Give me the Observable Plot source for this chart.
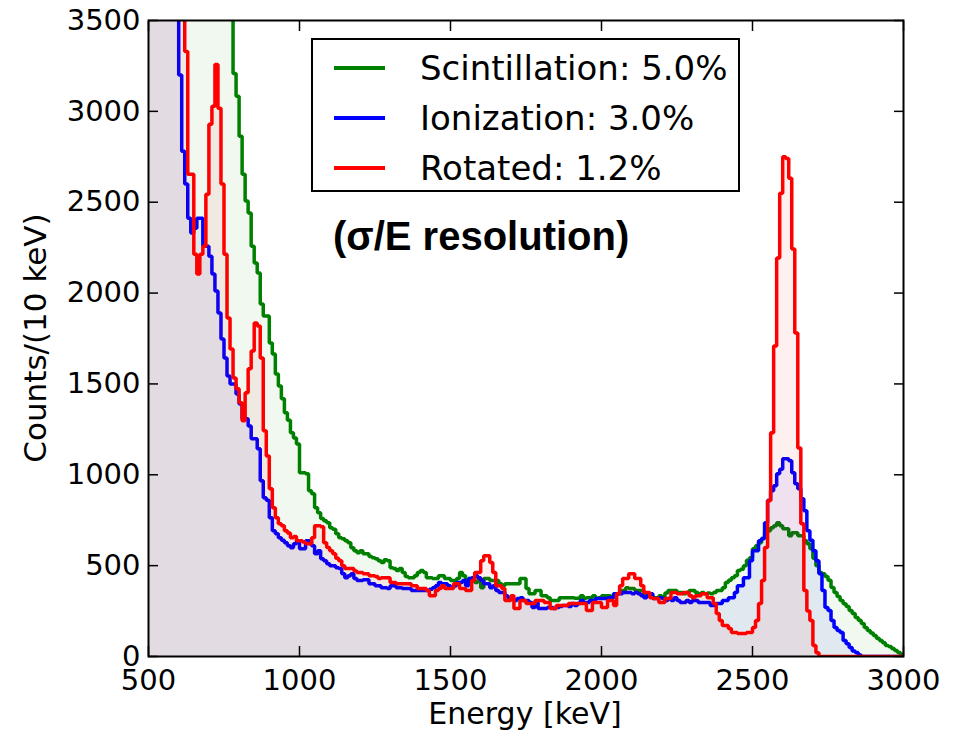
<!DOCTYPE html>
<html>
<head>
<meta charset="utf-8">
<script src="https://cdn.jsdelivr.net/npm/d3@7"></script>
<script src="https://cdn.jsdelivr.net/npm/@observablehq/plot@0.6"></script>
<style>
  html, body { margin: 0; padding: 0; background: #fff; }
  #wrap { position: relative; width: 961px; height: 736px; overflow: hidden; font-family: "DejaVu Sans", sans-serif; }
  .ylabel { position: absolute; left: 35px; top: 338px; transform: translate(-50%, -50%) rotate(-90deg); font-size: 31px; white-space: nowrap; color: #000; }
  .xlabel { position: absolute; left: 525px; top: 713px; transform: translate(-50%, -50%); font-size: 30px; white-space: nowrap; color: #000; }
  .legend { position: absolute; left: 311px; top: 38px; width: 425px; height: 150px; border: 2px solid #000; background: #fff; }
  .legend .row { position: absolute; left: 0; height: 40px; width: 100%; }
  .legend .sw { position: absolute; left: 21px; top: 18px; width: 51px; height: 4px; }
  .legend .tx { position: absolute; left: 107px; top: 0; line-height: 40px; font-size: 34px; white-space: nowrap; color: #000; }
  .annot { position: absolute; left: 333px; top: 236px; transform: translateY(-50%); font-family: "Liberation Sans", Arial, sans-serif; font-weight: bold; font-size: 40px; white-space: nowrap; color: #000; }
</style>
</head>
<body>
<div id="wrap"></div>
<script>
// Bin left edges (10 keV bins from 500 to 3000 keV)
const binStart = 500, binWidth = 10, binEnd = 3000;
const xTicks = [500, 1000, 1500, 2000, 2500, 3000];
const yTicks = [0, 500, 1000, 1500, 2000, 2500, 3000, 3500];

const seriesNames = ["Scintillation: 5.0%", "Ionization: 3.0%", "Rotated: 1.2%"];
const seriesColors = ["#008000", "#0000ff", "#ff0000"];

// Counts per 10 keV bin (values above 3500 run off the top)
const scintillation = [
  7000, 6800, 6600, 6400, 6200, 6000, 5800, 5600, 5400, 5250,
  5100, 4950, 4800, 4700, 4600, 4500, 4400, 4300, 4200, 4100,
  4000, 3950, 3850, 3780, 3700, 3650, 3620, 3560, 3209, 3083,
  2863, 2654, 2506, 2440, 2258, 2165, 2110, 1940, 1874, 1874,
  1725, 1665, 1555, 1489, 1418, 1341, 1300, 1231, 1203, 1170,
  1011, 1011, 1006, 912, 896, 819, 791, 760, 747, 736,
  709, 700, 676, 654, 648, 637, 626, 599, 582, 571,
  582, 566, 566, 550, 544, 538, 527, 517, 533, 527,
  489, 484, 473, 484, 462, 440, 434, 434, 445, 462,
  473, 462, 434, 434, 429, 429, 445, 445, 429, 429,
  418, 418, 429, 462, 445, 418, 429, 429, 407, 418,
  379, 429, 429, 418, 418, 418, 401, 390, 401, 401,
  401, 401, 401, 429, 429, 374, 346, 346, 363, 363,
  335, 335, 324, 308, 308, 308, 324, 324, 324, 324,
  324, 320, 320, 335, 320, 324, 324, 335, 320, 324,
  335, 335, 335, 324, 346, 346, 363, 363, 379, 374,
  374, 363, 363, 363, 335, 335, 335, 324, 324, 335,
  324, 350, 363, 363, 363, 352, 352, 346, 352, 363,
  363, 352, 346, 352, 346, 350, 346, 352, 363, 363,
  379, 407, 420, 434, 445, 473, 480, 500, 530, 544,
  593, 610, 626, 650, 681, 692, 709, 720, 736, 720,
  703, 703, 665, 681, 681, 665, 665, 637, 620, 593,
  540, 500, 462, 456, 440, 420, 380, 352, 330, 308,
  290, 275, 253, 236, 214, 200, 181, 160, 143, 130,
  115, 100, 88, 75, 60, 55, 44, 33, 22, 12
];

const ionization = [
  6000, 5800, 5600, 5400, 5100, 4900, 4600, 4300, 4000, 3700,
  3200, 2780, 2600, 2412, 2330, 2357, 2412, 2412, 2258, 2258,
  2203, 2105, 2011, 1890, 1747, 1643, 1544, 1500, 1500, 1445,
  1390, 1308, 1308, 1269, 1198, 1198, 1143, 967, 874, 860,
  764, 692, 676, 654, 640, 626, 610, 599, 621, 637,
  593, 593, 637, 637, 610, 566, 582, 538, 527, 511,
  500, 500, 489, 484, 456, 434, 445, 456, 429, 418,
  418, 423, 423, 401, 401, 390, 390, 379, 379, 374,
  390, 390, 379, 379, 374, 374, 374, 363, 363, 363,
  363, 363, 363, 370, 379, 390, 407, 401, 401, 390,
  379, 390, 407, 407, 418, 390, 429, 434, 445, 434,
  418, 401, 401, 379, 390, 363, 352, 352, 335, 324,
  319, 308, 319, 324, 308, 308, 297, 269, 297, 264,
  264, 264, 270, 270, 264, 270, 275, 280, 280, 275,
  291, 280, 291, 308, 297, 297, 308, 308, 319, 319,
  319, 319, 324, 324, 346, 346, 346, 352, 352, 352,
  346, 352, 346, 335, 324, 335, 346, 319, 319, 324,
  319, 308, 319, 308, 324, 308, 297, 297, 308, 297,
  308, 308, 297, 297, 297, 297, 280, 280, 291, 291,
  308, 308, 324, 324, 352, 390, 390, 434, 434, 527,
  582, 582, 637, 650, 736, 860, 912, 940, 1006, 1030,
  1088, 1088, 1077, 1011, 951, 923, 868, 802, 692, 640,
  582, 527, 456, 363, 269, 253, 198, 160, 143, 132,
  88, 70, 49, 30, 22, 8, 0, 0, 0, 0,
  0, 0, 0, 0, 0, 0, 0, 0, 0, 0
];

const rotated = [
  6500, 6300, 6100, 5900, 5700, 5500, 5200, 4900, 4600, 4300,
  4000, 3700, 3330, 2654, 2654, 2214, 2105, 2214, 2258, 2544,
  2929, 3028, 3258, 3017, 2600, 2214, 1863, 1692, 1533, 1473,
  1396, 1297, 1451, 1583, 1681, 1835, 1819, 1643, 1242, 1104,
  923, 819, 764, 731, 720, 692, 680, 654, 660, 637,
  637, 630, 621, 621, 654, 720, 720, 714, 626, 600,
  582, 566, 540, 527, 500, 484, 484, 484, 470, 462,
  462, 456, 456, 445, 445, 440, 429, 434, 434, 434,
  407, 407, 401, 401, 401, 401, 401, 390, 390, 374,
  374, 374, 363, 335, 335, 363, 374, 390, 374, 374,
  374, 401, 401, 374, 374, 363, 363, 418, 462, 462,
  527, 555, 555, 517, 462, 390, 390, 374, 308, 308,
  335, 264, 264, 308, 308, 291, 291, 291, 308, 308,
  308, 297, 297, 264, 264, 280, 280, 280, 280, 291,
  291, 291, 291, 291, 291, 253, 253, 297, 297, 297,
  270, 270, 308, 308, 280, 346, 390, 429, 429, 456,
  456, 429, 429, 390, 352, 352, 324, 319, 319, 297,
  297, 319, 319, 352, 352, 346, 346, 352, 352, 335,
  324, 335, 335, 346, 346, 324, 324, 291, 236, 198,
  170, 170, 154, 132, 132, 126, 126, 126, 132, 132,
  159, 198, 291, 418, 600, 857, 1231, 1709, 2193, 2550,
  2750, 2740, 2632, 2242, 1780, 1148, 731, 363, 250, 198,
  60, 20, 0, 0, 0, 0, 0, 0, 0, 0,
  0, 0, 0, 0, 0, 0, 0, 0, 0, 0,
  0, 0, 0, 0, 0, 0, 0, 0, 0, 0
];

const seriesValues = [scintillation, ionization, rotated];

function toSteps(values) {
  const pts = values.map((v, i) => ({e: binStart + i * binWidth, v}));
  pts.push({e: binEnd, v: values[values.length - 1]});
  return pts;
}

const marks = [];
seriesValues.forEach((vals, k) => {
  const data = toSteps(vals);
  marks.push(Plot.areaY(data, {x: "e", y: "v", curve: "step-after", fill: seriesColors[k], fillOpacity: 0.06, clip: true}));
  marks.push(Plot.lineY(data, {x: "e", y: "v", curve: "step-after", stroke: seriesColors[k], strokeWidth: 3.5, strokeLinejoin: "miter", strokeLinecap: "butt", clip: true}));
});

marks.push(
  Plot.frame({stroke: "#000", strokeWidth: 2}),
  Plot.axisX({anchor: "bottom", ticks: xTicks, tickFormat: d => String(d), tickSize: 0, tickPadding: 13, label: null, fontSize: 29}),
  Plot.axisX({anchor: "bottom", ticks: xTicks, tickSize: -10, strokeWidth: 1.5, fill: "none", label: null}),
  Plot.axisX({anchor: "top", ticks: xTicks, tickSize: -10, strokeWidth: 1.5, fill: "none", label: null}),
  Plot.axisY({anchor: "left", ticks: yTicks, tickFormat: d => String(d), tickSize: 0, tickPadding: 8, label: null, fontSize: 29}),
  Plot.axisY({anchor: "left", ticks: yTicks, tickSize: -10, strokeWidth: 1.5, fill: "none", label: null}),
  Plot.axisY({anchor: "right", ticks: yTicks, tickSize: -10, strokeWidth: 1.5, fill: "none", label: null})
);

const chart = Plot.plot({
  width: 961,
  height: 736,
  marginLeft: 148,
  marginRight: 58,
  marginTop: 20,
  marginBottom: 80,
  x: {domain: [binStart, binEnd]},
  y: {domain: [0, 3500]},
  style: {fontFamily: "DejaVu Sans", fontSize: "29px", color: "#000", background: "#fff", overflow: "visible"},
  marks
});

const wrap = document.getElementById("wrap");
wrap.appendChild(chart);

const yl = document.createElement("div");
yl.className = "ylabel"; yl.textContent = "Counts/(10 keV)";
wrap.appendChild(yl);

const xl = document.createElement("div");
xl.className = "xlabel"; xl.textContent = "Energy [keV]";
wrap.appendChild(xl);

const lg = document.createElement("div");
lg.className = "legend";
seriesNames.forEach((name, k) => {
  const row = document.createElement("div");
  row.className = "row";
  row.style.top = (8 + k * 50) + "px";
  const sw = document.createElement("div");
  sw.className = "sw"; sw.style.background = seriesColors[k];
  const tx = document.createElement("div");
  tx.className = "tx"; tx.textContent = name;
  row.appendChild(sw); row.appendChild(tx);
  lg.appendChild(row);
});
wrap.appendChild(lg);

const an = document.createElement("div");
an.className = "annot"; an.textContent = "(σ/E resolution)";
wrap.appendChild(an);
</script>
</body>
</html>
